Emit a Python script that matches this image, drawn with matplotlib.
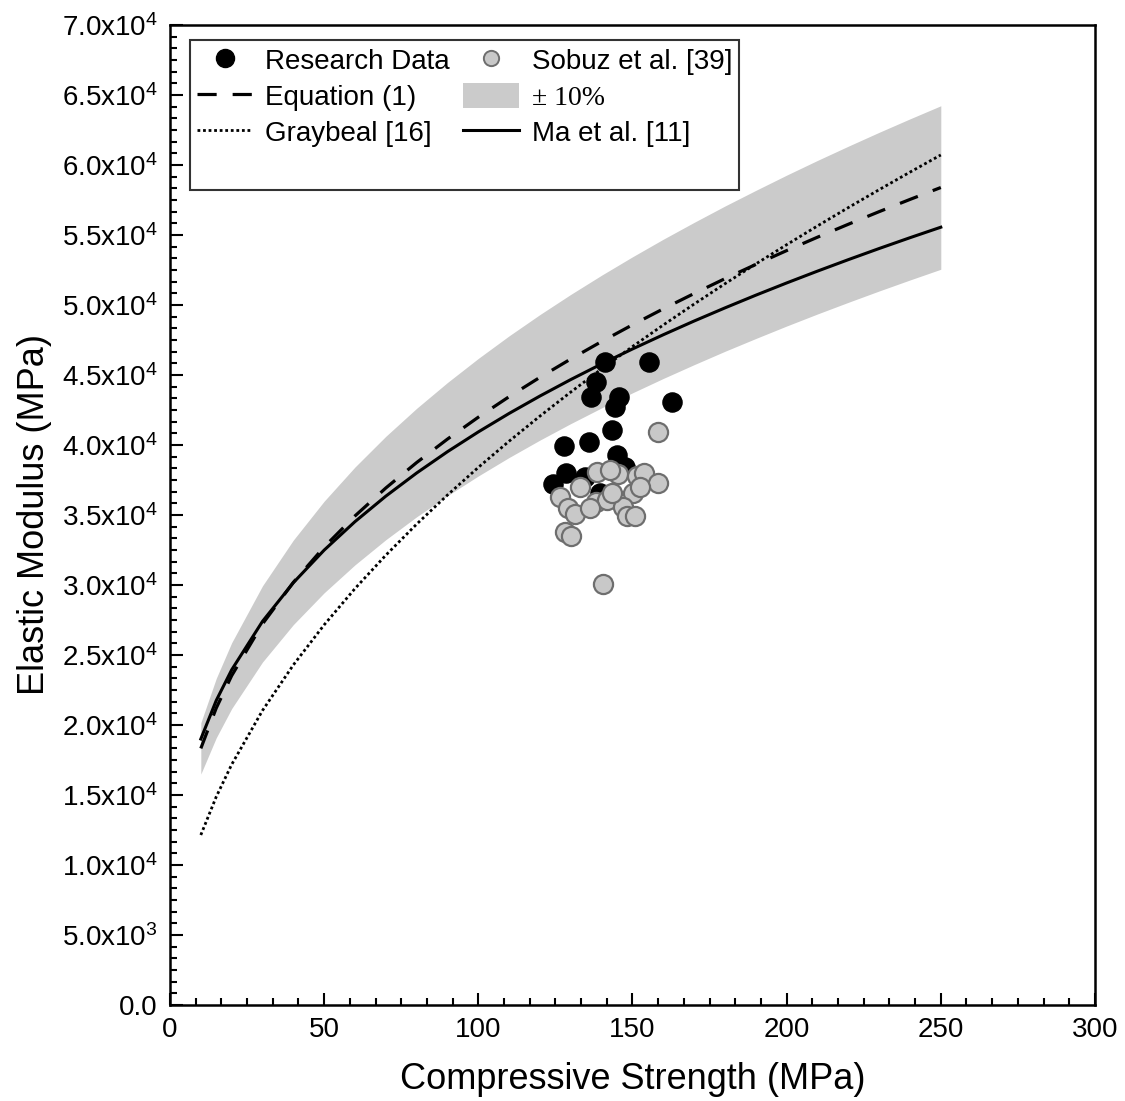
import numpy as np
import matplotlib
matplotlib.use('Agg')
import matplotlib.pyplot as plt
from matplotlib.ticker import MultipleLocator, FuncFormatter
from matplotlib.lines import Line2D
from matplotlib.patches import Patch

plt.rcParams['font.family'] = ['Liberation Sans', 'DejaVu Sans']
plt.rcParams['mathtext.fontset'] = 'custom'
plt.rcParams['mathtext.rm'] = 'Liberation Sans'

# --- donnees ---
# courbes (MPa)
fc_curve = [10, 15, 20, 30, 40, 50, 60, 70, 80, 90, 100, 110, 120, 130, 140,
            150, 160, 170, 180, 190, 200, 210, 220, 230, 240, 250]
eq1 = [18327, 21207, 23521, 27218, 30187, 32714, 34933, 36928, 38746, 40422,
       41985, 43453, 44835, 46144, 47391, 48583, 49726, 50820, 51881, 52896,
       53886, 54842, 55766, 56667, 57540, 58391]
graybeal = [12143, 14872, 17173, 21033, 24286, 27153, 29745, 32128, 34346, 36429,
            38400, 40274, 42065, 43783, 45436, 47030, 48572, 50067, 51519, 52931,
            54306, 55647, 56957, 58237, 59489, 60716]
ma = [19000, 21749, 23938, 27402, 30161, 32490, 34525, 36345, 38000, 39522,
      40934, 42256, 43499, 44675, 45792, 46858, 47876, 48855, 49793, 50700,
      51574, 52419, 53238, 54034, 54806, 55556]
band_pct = 0.10

# points experimentaux
res_x = [141.1, 155.4, 138.2, 136.6, 145.6, 144.3, 162.8, 143.4, 127.8, 135.9,
         145.0, 128.4, 147.6, 134.6, 124.2, 139.5]
res_y = [45900, 45900, 44500, 43400, 43400, 42700, 43100, 41100, 39900, 40200,
         39300, 38000, 38400, 37700, 37200, 36600]
sob_x = [138.5, 133.0, 145.3, 151.5, 153.7, 158.3, 126.5, 138.2, 141.7, 150.2,
         152.4, 129.1, 131.4, 136.2, 146.9, 148.2, 150.8, 128.1, 130.1, 140.4,
         142.7, 143.4, 158.3]
sob_y = [38100, 37000, 37900, 37800, 38000, 37300, 36300, 35900, 36100, 36600,
         37000, 35500, 35100, 35500, 35600, 34900, 34900, 33800, 33500, 30100,
         38200, 36600, 40900]

x = np.array(fc_curve)
e = np.array(eq1)

fig = plt.figure(figsize=(11.25, 11.01), dpi=100)
ax = fig.add_axes([0.1511, 0.0872, 0.8222, 0.8901])

ax.fill_between(x, e * (1 - band_pct), e * (1 + band_pct), color='#cbcbcb', lw=0, zorder=1)
ax.plot(x, e, color='black', lw=2.3, dashes=(6, 5), zorder=3)
ax.plot(x, graybeal, color='black', lw=2.0, linestyle=(0, (1, 1)), zorder=3)
ax.plot(x, ma, color='black', lw=2.2, zorder=3)

ax.scatter(res_x, res_y, s=190, color='black', zorder=4)
ax.scatter(sob_x, sob_y, s=190, facecolor='#c8c8c8', edgecolor='#6e6e6e', lw=1.6, zorder=5)

ax.set_xlim(0, 300)
ax.set_ylim(0, 70000)
ax.xaxis.set_major_locator(MultipleLocator(50))
ax.xaxis.set_minor_locator(MultipleLocator(50 / 6))
ax.yaxis.set_major_locator(MultipleLocator(5000))
ax.yaxis.set_minor_locator(MultipleLocator(5000 / 6))


def fmt_y(v, pos):
    if v <= 0:
        return '0.0'
    ex = int(np.floor(np.log10(v)))
    return r'$\mathregular{%.1fx10^{%d}}$' % (v / 10 ** ex, ex)


ax.yaxis.set_major_formatter(FuncFormatter(fmt_y))
ax.tick_params(which='both', direction='in', top=False, right=False, width=1.5)
ax.tick_params(which='major', length=9, labelsize=20, pad=9)
ax.tick_params(which='minor', length=5)
for sp in ax.spines.values():
    sp.set_linewidth(1.8)

ax.set_xlabel('Compressive Strength (MPa)', fontsize=26)
ax.set_ylabel('Elastic Modulus (MPa)', fontsize=26)
ax.xaxis.set_label_coords(0.5, -0.058)
ax.yaxis.set_label_coords(-0.128, 0.5)

# legende (2 colonnes, avec une ligne vide en bas)
blank = Line2D([], [], linestyle='none')
handles = [
    Line2D([], [], linestyle='none', marker='o', markersize=13, color='black'),
    Line2D([], [], color='black', lw=2.3, dashes=(6, 5)),
    Line2D([], [], color='black', lw=2.0, linestyle=(0, (1, 1))),
    blank,
    Line2D([], [], linestyle='none', marker='o', markersize=11,
           markerfacecolor='#c8c8c8', markeredgecolor='#6e6e6e', markeredgewidth=1.4),
    Patch(facecolor='#cbcbcb', edgecolor='none'),
    Line2D([], [], color='black', lw=2.2),
    blank,
]
labels = ['Research Data', 'Equation (1)', 'Graybeal [16]', ' ',
          'Sobuz et al. [39]', '\u00b1 10%', 'Ma et al. [11]', ' ']
leg = ax.legend(handles, labels, ncol=2, loc='upper left', bbox_to_anchor=(0.0216, 0.985),
                borderaxespad=0, fontsize=20, frameon=True, fancybox=False,
                handlelength=2.0, handleheight=1.0, handletextpad=0.45,
                columnspacing=0.5, labelspacing=0.3, borderpad=0.25)
leg.get_frame().set_edgecolor('black')
leg.get_frame().set_linewidth(1.5)
leg.get_texts()[5].set_family('Liberation Serif')

fig.savefig('out.png', dpi=100)
